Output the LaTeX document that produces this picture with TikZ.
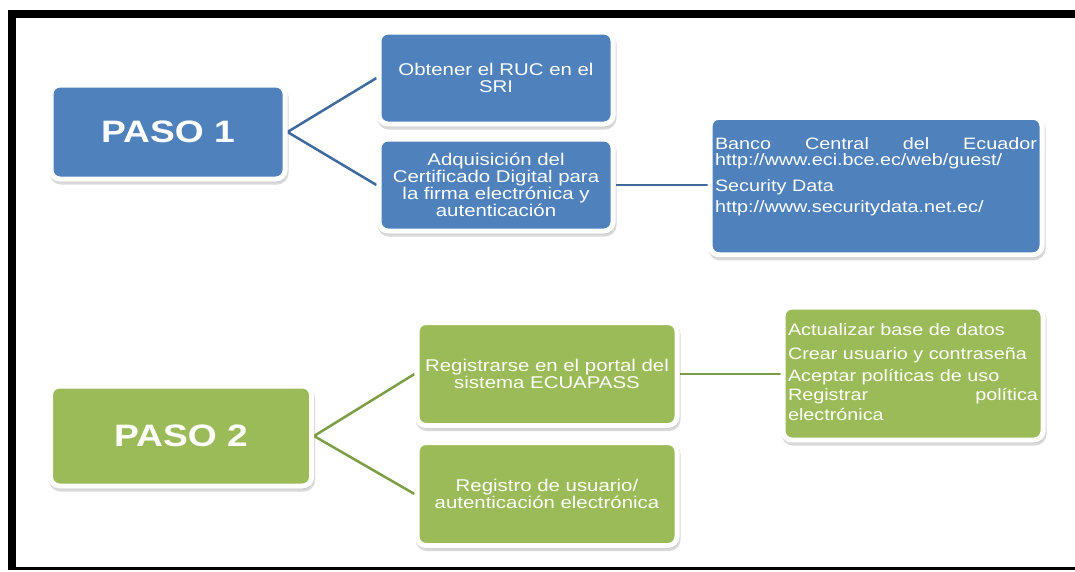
\documentclass[tikz,border=0pt]{standalone}
\usepackage{fontspec}
\setmainfont{Liberation Sans}[FakeStretch=1.2]
\usetikzlibrary{shadows,backgrounds}
\definecolor{pasoblue}{HTML}{4F81BD}
\definecolor{pasogreen}{HTML}{9BBB59}
\definecolor{lineblue}{HTML}{3E6A9E}
\definecolor{linegreen}{HTML}{7D9E45}

\begin{document}
\begin{tikzpicture}[x=1pt,y=-1pt,
	box/.style={draw=white, line width=5pt, rounded corners=9pt, text=white, inner sep=4pt, align=center,
		font=\fontsize{17}{17}\selectfont, drop shadow={shadow xshift=1pt, shadow yshift=-3pt, opacity=0.25, draw=black!60}},
	bluebox/.style={box, fill=pasoblue},
	greenbox/.style={box, fill=pasogreen},
	pasotext/.style={font=\bfseries\fontsize{31}{31}\selectfont},
	listbox/.style={align=left, font=\fontsize{16.5}{16.5}\selectfont, text height=12pt, inner xsep=5pt},
	blueline/.style={draw=lineblue, line width=2.5pt},
	greenline/.style={draw=linegreen, line width=2.5pt}]
					\useasboundingbox (0,0) rectangle (1075,571);
					% marco
					\fill[black] (8,10) rectangle (1075,18);
					\fill[black] (8,10) rectangle (16,570);
					\fill[black] (8,567) rectangle (1075,570);

					% paso 1
					\node[bluebox, pasotext, minimum width=234pt, minimum height=94pt] (paso1) at (168,132) {PASO 1};
					\node[bluebox, minimum width=234pt, minimum height=92pt] (ruc) at (496,78) {Obtener el RUC en el\\ SRI};
					\node[bluebox, minimum width=234pt, minimum height=92pt] (cert) at (496,185) {Adquisición del\\ Certificado Digital para\\ la firma electrónica y\\ autenticación};
					\node[bluebox, listbox, text width=322pt, inner ysep=20pt, text depth=85.5pt] (banco) at (876,186)
						{Banco\hfill Central\hfill del\hfill Ecuador\\ http://www.eci.bce.ec/web/guest/\\[9pt] Security Data\\[5pt] http://www.securitydata.net.ec/};

					% paso 2
					\node[greenbox, pasotext, minimum width=261pt, minimum height=100pt] (paso2) at (181,436) {PASO 2};
					\node[greenbox, minimum width=260pt, minimum height=103pt] (portal) at (547,374) {Registrarse en el portal del\\ sistema ECUAPASS};
					\node[greenbox, minimum width=260pt, minimum height=103pt] (usuario) at (547,494) {Registro de usuario/\\ autenticación electrónica};
					\node[greenbox, listbox, text width=250pt, inner ysep=16pt, text depth=89pt, font=\fontsize{16.5}{19.5}\selectfont] (datos) at (913,373.5)
						{Actualizar base de datos\\[5pt] Crear usuario y contraseña\\[2pt] Aceptar políticas de uso\\ Registrar\hfill política\\ electrónica};

					\begin{scope}[on background layer]
						\draw[blueline] (paso1.east) -- (ruc.west);
						\draw[blueline] (paso1.east) -- (cert.west);
						\draw[blueline] (cert.east) -- (cert.east -| banco.west);
						\draw[greenline] (paso2.east) -- (portal.west);
						\draw[greenline] (paso2.east) -- (usuario.west);
						\draw[greenline] (portal.east) -- (portal.east -| datos.west);
					\end{scope}
			\end{tikzpicture}
\end{document}
